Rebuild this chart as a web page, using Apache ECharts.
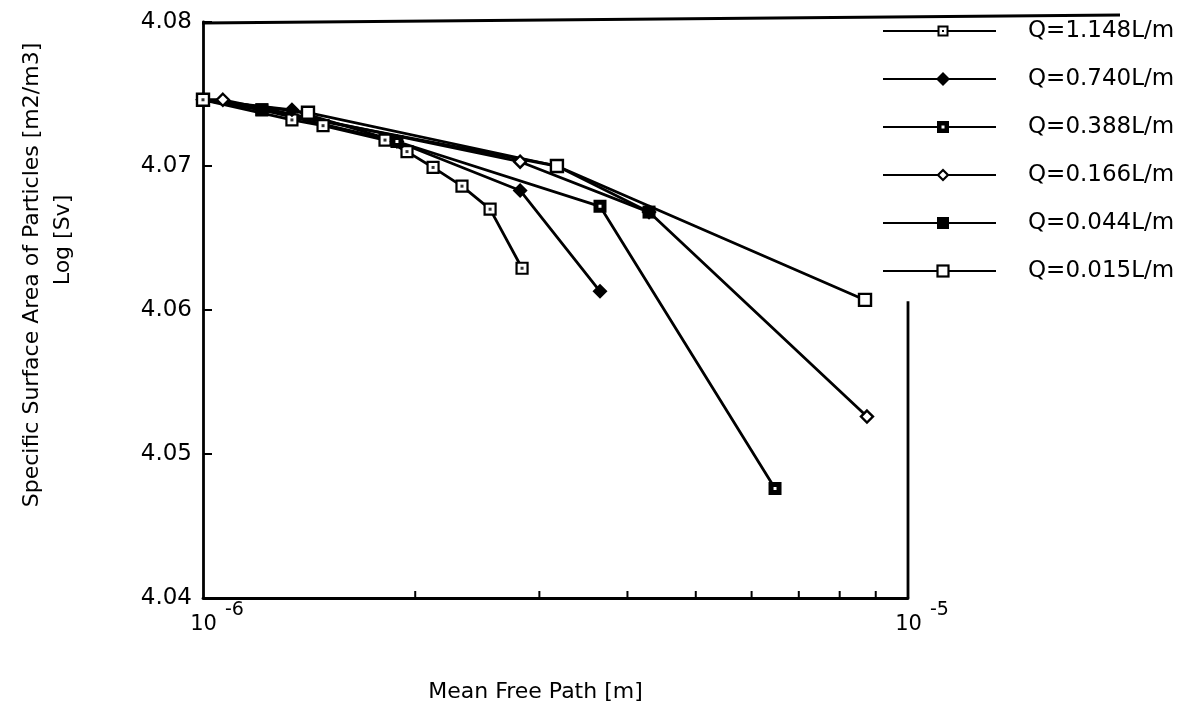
<!DOCTYPE html>
<html>
<head>
<meta charset="utf-8">
<title>Specific Surface Area vs Mean Free Path</title>
<script src="https://cdn.jsdelivr.net/npm/echarts@6/dist/echarts.min.js"></script>
<style>
  html, body { margin: 0; padding: 0; background: #fff; }
  #chart { width: 1199px; height: 708px; }
</style>
</head>
<body>
<div id="chart"></div>
<script>
// ---- data ----
const seriesNames = ['Q=1.148L/m', 'Q=0.740L/m', 'Q=0.388L/m', 'Q=0.166L/m', 'Q=0.044L/m', 'Q=0.015L/m'];

const x_q1148 = [1.0e-6, 1.337e-6, 1.48e-6, 1.812e-6, 1.947e-6, 2.12e-6, 2.33e-6, 2.554e-6, 2.835e-6];
const y_q1148 = [4.0746, 4.0732, 4.0728, 4.0718, 4.0710, 4.0699, 4.0686, 4.0670, 4.0629];

const x_q0740 = [1.0e-6, 1.337e-6, 1.884e-6, 2.817e-6, 3.657e-6];
const y_q0740 = [4.0746, 4.0739, 4.0717, 4.0683, 4.0613];

const x_q0388 = [1.0e-6, 1.212e-6, 1.884e-6, 3.657e-6, 6.477e-6];
const y_q0388 = [4.0746, 4.0739, 4.0717, 4.0672, 4.0476];

const x_q0166 = [1.0e-6, 1.067e-6, 2.817e-6, 4.292e-6, 8.746e-6];
const y_q0166 = [4.0746, 4.0746, 4.0703, 4.0668, 4.0526];

const x_q0044 = [1.0e-6, 1.212e-6, 3.177e-6, 4.292e-6];
const y_q0044 = [4.0746, 4.0739, 4.0700, 4.0668];

const x_q0015 = [1.0e-6, 1.409e-6, 3.177e-6, 8.69e-6];
const y_q0015 = [4.0746, 4.0737, 4.0700, 4.0607];

// axis ranges and ticks
const xMin = 1e-6, xMax = 1e-5;
const yMin = 4.04, yMax = 4.08, yStep = 0.01;
const xMinorTicks = [2e-6, 3e-6, 4e-6, 5e-6, 6e-6, 7e-6, 8e-6, 9e-6];
const rightAxisFrom = 4.0606;   // the right frame line only runs up to here

const yTitle = 'Specific Surface Area of Particles [m2/m3]';
const yTitleSub = 'Log [Sv]';
const xTitle = 'Mean Free Path [m]';

// ---- helpers ----
const zip = (xs, ys) => xs.map((x, i) => [x, ys[i]]);
const FONT = 'DejaVu Sans';

function svgIcon(marker) {
  const svg = '<svg xmlns="http://www.w3.org/2000/svg" width="113" height="16" viewBox="0 0 113 16">' +
    '<line x1="0" y1="8" x2="113" y2="8" stroke="black" stroke-width="2"/>' + marker + '</svg>';
  return 'image://data:image/svg+xml;charset=utf-8,' + encodeURIComponent(svg);
}
const legendMarkers = [
  '<rect x="55.5" y="3.5" width="9" height="9" fill="white" stroke="black" stroke-width="2"/><rect x="59" y="7" width="2" height="2" fill="black"/>',
  '<polygon points="60,1 67,8 60,15 53,8" fill="black"/>',
  '<rect x="54" y="2" width="12" height="12" fill="black"/><rect x="58.5" y="6.5" width="3" height="3" fill="white"/>',
  '<polygon points="60,3 65,8 60,13 55,8" fill="white" stroke="black" stroke-width="2.2"/>',
  '<rect x="54" y="2" width="12" height="12" fill="black"/>',
  '<rect x="54.5" y="2.5" width="11" height="11" fill="white" stroke="black" stroke-width="2.2"/>'
];

function lineSeries(name, data, symbol, size, itemStyle) {
  return {
    name, type: 'line', data, symbol, symbolSize: size,
    showAllSymbol: true,
    lineStyle: { color: '#000', width: 2.8 },
    itemStyle: Object.assign({ color: '#000' }, itemStyle),
    emphasis: { disabled: true },
    animation: false,
    z: 3
  };
}

const chart = echarts.init(document.getElementById('chart'), null, { renderer: 'canvas' });

const option = {
  backgroundColor: '#fff',
  animation: false,
  textStyle: { fontFamily: FONT, color: '#000' },
  grid: { left: 203, top: 22, width: 705, height: 576 },
  legend: {
    orient: 'vertical',
    left: 878,
    top: 14,
    itemWidth: 113,
    itemHeight: 16,
    itemGap: 24,
    selectedMode: false,
    textStyle: { fontFamily: FONT, fontSize: 23, color: '#000', lineHeight: 24, padding: [0, 0, 0, 27] },
    data: seriesNames.map((n, i) => ({ name: n, icon: svgIcon(legendMarkers[i]) }))
  },
  xAxis: {
    type: 'log',
    logBase: 10,
    min: xMin,
    max: xMax,
    name: xTitle,
    nameLocation: 'middle',
    nameGap: 83,
    nameTextStyle: { fontFamily: FONT, fontSize: 22, color: '#000', padding: [0, 40, 0, 0] },
    axisLine: { lineStyle: { color: '#000', width: 2.8 } },
    axisTick: { show: false },
    splitLine: { show: false },
    minorTick: { show: false },
    axisLabel: {
      margin: 3,
      showMinLabel: true,
      showMaxLabel: true,
      padding: [0, 0, 0, 28],
      formatter: v => '{b|10}{s|' + Math.round(Math.log10(v)) + '}',
      rich: {
        b: { fontFamily: FONT, fontSize: 21, color: '#000', verticalAlign: 'bottom', lineHeight: 34, padding: [0, 8, 0, 0] },
        s: { fontFamily: FONT, fontSize: 19, color: '#000', verticalAlign: 'top', lineHeight: 34 }
      }
    }
  },
  yAxis: {
    type: 'value',
    min: yMin,
    max: yMax,
    interval: yStep,
    axisLine: { show: true, lineStyle: { color: '#000', width: 2.8 } },
    axisTick: { show: true, inside: true, length: 9, lineStyle: { color: '#000', width: 2 } },
    splitLine: { show: false },
    axisLabel: {
      margin: 11,
      fontFamily: FONT,
      fontSize: 23,
      color: '#000',
      formatter: v => v.toFixed(2)
    }
  },
  series: [
    lineSeries(seriesNames[0], zip(x_q1148, y_q1148), 'rect', 11, { color: '#fff', borderColor: '#000', borderWidth: 2.2 }),
    lineSeries(seriesNames[1], zip(x_q0740, y_q0740), 'diamond', 15, { color: '#000' }),
    lineSeries(seriesNames[2], zip(x_q0388, y_q0388), 'rect', 8, { color: '#fff', borderColor: '#000', borderWidth: 5 }),
    lineSeries(seriesNames[3], zip(x_q0166, y_q0166), 'diamond', 12, { color: '#fff', borderColor: '#000', borderWidth: 2.4 }),
    lineSeries(seriesNames[4], zip(x_q0044, y_q0044), 'rect', 13, { color: '#000' }),
    lineSeries(seriesNames[5], zip(x_q0015, y_q0015), 'rect', 12, { color: '#fff', borderColor: '#000', borderWidth: 2.4 }),
    {
      // centre dots of the Q=1.148 markers
      name: 'q1148-dots', type: 'scatter', data: zip(x_q1148, y_q1148),
      symbol: 'rect', symbolSize: 3, itemStyle: { color: '#000' },
      silent: true, z: 5, animation: false
    },
    {
      // minor ticks (2..9) along the bottom log axis, pointing inwards
      name: 'x-minor-ticks', type: 'custom', silent: true, z: 4,
      data: xMinorTicks.map(v => [v, yMin]),
      renderItem: (params, api) => {
        const p = api.coord([api.value(0), api.value(1)]);
        return { type: 'line', shape: { x1: p[0], y1: p[1], x2: p[0], y2: p[1] - 7 },
                 style: { stroke: '#000', lineWidth: 2 } };
      }
    }
  ]
};

chart.setOption(option);

// frame: long top rule reaching over the legend, a partial right-hand rule,
// and the two-line vertical axis title
const tl = chart.convertToPixel({ gridIndex: 0 }, [xMin, yMax]);
const br = chart.convertToPixel({ gridIndex: 0 }, [xMax, yMin]);
const rs = chart.convertToPixel({ gridIndex: 0 }, [xMax, rightAxisFrom]);
chart.setOption({
  graphic: [
    { type: 'polyline', silent: true, z: 2,
      shape: { points: [[tl[0] - 1, tl[1] + 1], [1120, tl[1] - 7]] },
      style: { stroke: '#000', lineWidth: 2.8, fill: null } },
    { type: 'line', silent: true, z: 2,
      shape: { x1: br[0], y1: rs[1], x2: br[0], y2: br[1] },
      style: { stroke: '#000', lineWidth: 2.8 } },
    { type: 'text', silent: true, x: 32, y: 275, rotation: Math.PI / 2,
      style: { text: yTitle, font: '22px "DejaVu Sans"', fill: '#000', align: 'center', verticalAlign: 'middle' } },
    { type: 'text', silent: true, x: 63, y: 240, rotation: Math.PI / 2,
      style: { text: yTitleSub, font: '22px "DejaVu Sans"', fill: '#000', align: 'center', verticalAlign: 'middle' } }
  ]
});
</script>
</body>
</html>
